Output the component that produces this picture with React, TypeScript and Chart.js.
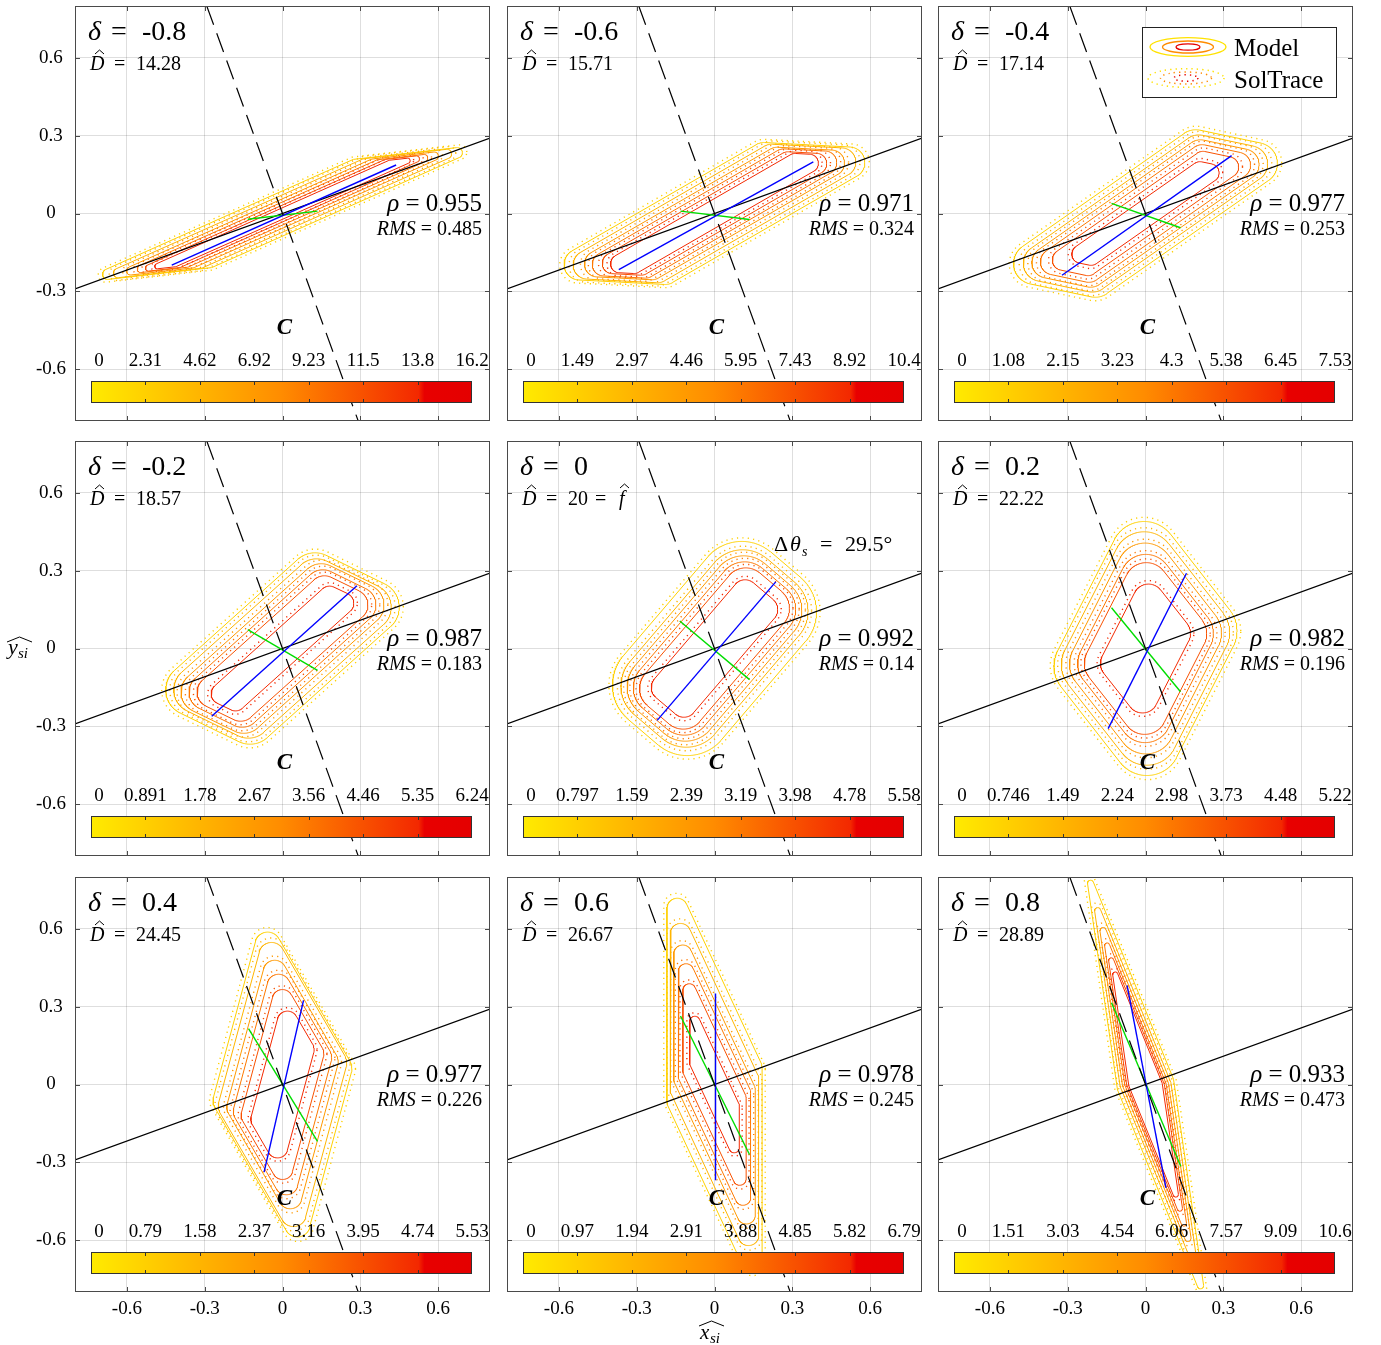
import React, { useEffect, useRef } from 'react';
import { Chart, registerables } from 'chart.js';
Chart.register(...registerables);

const SERIF = '"Liberation Serif", "Times New Roman", serif';

// ---------------- data ----------------
const deltaLabels = ['-0.8', '-0.6', '-0.4', '-0.2', '0', '0.2', '0.4', '0.6', '0.8'];
const dHatLabels = ['14.28', '15.71', '17.14', '18.57', '20', '22.22', '24.45', '26.67', '28.89'];
const rhoLabels = ['0.955', '0.971', '0.977', '0.987', '0.992', '0.982', '0.977', '0.978', '0.933'];
const rmsLabels = ['0.485', '0.324', '0.253', '0.183', '0.14', '0.196', '0.226', '0.245', '0.473'];
const colorbarLabels = [
  ['0', '2.31', '4.62', '6.92', '9.23', '11.5', '13.8', '16.2'],
  ['0', '1.49', '2.97', '4.46', '5.95', '7.43', '8.92', '10.4'],
  ['0', '1.08', '2.15', '3.23', '4.3', '5.38', '6.45', '7.53'],
  ['0', '0.891', '1.78', '2.67', '3.56', '4.46', '5.35', '6.24'],
  ['0', '0.797', '1.59', '2.39', '3.19', '3.98', '4.78', '5.58'],
  ['0', '0.746', '1.49', '2.24', '2.98', '3.73', '4.48', '5.22'],
  ['0', '0.79', '1.58', '2.37', '3.16', '3.95', '4.74', '5.53'],
  ['0', '0.97', '1.94', '2.91', '3.88', '4.85', '5.82', '6.79'],
  ['0', '1.51', '3.03', '4.54', '6.06', '7.57', '9.09', '10.6'],
];
const axisTicks = [-0.6, -0.3, 0, 0.3, 0.6];
const sunLine = [{ x: -0.8, y: -0.291 }, { x: 0.8, y: 0.291 }];
const normalLine = [{ x: -0.292, y: 0.8 }, { x: 0.292, y: -0.8 }];

// principal axes [x1, y1, x2, y2]
const blueAxis = [
  [-0.427, -0.199, 0.438, 0.187],
  [-0.369, -0.216, 0.381, 0.199],
  [-0.322, -0.238, 0.332, 0.223],
  [-0.273, -0.261, 0.287, 0.242],
  [-0.221, -0.277, 0.236, 0.257],
  [-0.144, -0.309, 0.158, 0.29],
  [-0.071, -0.338, 0.081, 0.324],
  [0.004, 0.351, 0.004, -0.369],
  [-0.071, 0.382, 0.079, -0.399],
];
const greenAxis = [
  [-0.134, -0.022, 0.135, 0.009],
  [-0.131, 0.009, 0.135, -0.023],
  [-0.131, 0.039, 0.135, -0.055],
  [-0.134, 0.073, 0.135, -0.084],
  [-0.134, 0.106, 0.135, -0.12],
  [-0.131, 0.157, 0.135, -0.167],
  [-0.131, 0.215, 0.135, -0.219],
  [-0.131, 0.264, 0.135, -0.27],
  [-0.131, 0.315, 0.136, -0.315],
];

// contour geometry: rounded parallelogram (edge directions in degrees, half lengths, rounding)
const edgeAngleA = [24, 30, 35, 42, 49.5, 63, 75, 90, 98.3];
const edgeAngleB = [6.5, -3, -12, -26, -40.5, -52, -60, -65, -67.9];
const levelA = [
  [0.52, 0.52, 0.51, 0.5, 0.5, 0.49],
  [0.41, 0.41, 0.4, 0.4, 0.39, 0.39],
  [0.38, 0.37, 0.36, 0.35, 0.33, 0.28],
  [0.32, 0.31, 0.31, 0.3, 0.29, 0.28],
  [0.25, 0.25, 0.25, 0.25, 0.25, 0.24],
  [0.24, 0.22, 0.2, 0.18, 0.17, 0.138],
  [0.31, 0.3, 0.27, 0.25, 0.23, 0.195],
  [0.37, 0.3, 0.24, 0.2, 0.155, 0.08],
  [0.4, 0.34, 0.3, 0.27, 0.24, 0.215],
];
const levelB = [
  [0.2, 0.16, 0.12, 0.09, 0.06, 0.035],
  [0.165, 0.135, 0.105, 0.08, 0.055, 0.028],
  [0.12, 0.1, 0.085, 0.07, 0.05, 0.02],
  [0.125, 0.11, 0.09, 0.075, 0.06, 0.03],
  [0.075, 0.07, 0.065, 0.06, 0.055, 0.05],
  [0.185, 0.17, 0.15, 0.13, 0.12, 0.083],
  [0.275, 0.24, 0.2, 0.16, 0.12, 0.063],
  [0.34, 0.31, 0.29, 0.26, 0.23, 0.18],
  [0.41, 0.36, 0.32, 0.29, 0.26, 0.228],
];
const levelR = [
  [0.02, 0.018, 0.016, 0.014, 0.012, 0.01],
  [0.06, 0.055, 0.05, 0.045, 0.04, 0.035],
  [0.08, 0.07, 0.06, 0.05, 0.04, 0.035],
  [0.1, 0.09, 0.08, 0.07, 0.06, 0.04],
  [0.174, 0.145, 0.125, 0.105, 0.085, 0.05],
  [0.13, 0.12, 0.11, 0.1, 0.085, 0.06],
  [0.05, 0.05, 0.045, 0.045, 0.04, 0.04],
  [0.04, 0.04, 0.035, 0.03, 0.025, 0.02],
  [0.012, 0.012, 0.012, 0.01, 0.01, 0.01],
];
const soltraceGrow = [0.008, 0.01, 0.011, 0.011, 0.011, 0.011, 0.01, 0.009, 0.008];
const levelFractions = [0.143, 0.286, 0.429, 0.571, 0.714, 0.857];

// ---------------- layout ----------------
const PANEL_LEFT = [75, 507, 938];
const PANEL_TOP = [6, 441, 877];
const PAD_L = 75, PAD_T = 6, PAD_R = 12, PAD_B = 54;
const PW = 415, PH = 415;
const CW = PAD_L + PW + PAD_R, CH = PAD_T + PH + PAD_B;

const CMAP: [number, number, number, number][] = [
  [0, 255, 235, 0], [0.5, 255, 140, 0], [0.86, 243, 40, 0], [0.875, 232, 0, 0], [1, 228, 0, 0],
];
function cmap(t: number): string {
  for (let i = 1; i < CMAP.length; i++) {
    if (t <= CMAP[i][0]) {
      const [t0, r0, g0, b0] = CMAP[i - 1];
      const [t1, r1, g1, b1] = CMAP[i];
      const u = (t - t0) / (t1 - t0);
      return `rgb(${Math.round(r0 + (r1 - r0) * u)},${Math.round(g0 + (g1 - g0) * u)},${Math.round(b0 + (b1 - b0) * u)})`;
    }
  }
  return 'rgb(228,0,0)';
}

function contour(angA: number, angB: number, a: number, b: number, r: number) {
  const ax = Math.cos((angA * Math.PI) / 180), ay = Math.sin((angA * Math.PI) / 180);
  const bx = Math.cos((angB * Math.PI) / 180), by = Math.sin((angB * Math.PI) / 180);
  const pts: { x: number; y: number }[] = [];
  const N = 400;
  for (let i = 0; i <= N; i++) {
    const t = (i / N) * 2 * Math.PI + 0.0013;
    const nx = Math.cos(t), ny = Math.sin(t);
    const sa = nx * ax + ny * ay >= 0 ? 1 : -1;
    const sb = nx * bx + ny * by >= 0 ? 1 : -1;
    pts.push({ x: sa * a * ax + sb * b * bx + r * nx, y: sa * a * ay + sb * b * by + r * ny });
  }
  return pts;
}

function hat(ctx: CanvasRenderingContext2D, x0: number, x1: number, y: number, h: number) {
  ctx.save();
  ctx.strokeStyle = '#000';
  ctx.lineWidth = 1;
  ctx.beginPath();
  ctx.moveTo(x0, y);
  ctx.lineTo((x0 + x1) / 2, y - h);
  ctx.lineTo(x1, y);
  ctx.stroke();
  ctx.restore();
}

function makePlugin(i: number) {
  return {
    id: 'annot' + i,
    afterDatasetsDraw(chart: any) {
      const { ctx, chartArea: ca } = chart;
      const xs = chart.scales.x, ys = chart.scales.y;
      const L0 = ca.left, T0 = ca.top;
      ctx.save();
      ctx.fillStyle = '#000';
      ctx.textAlign = 'left';
      ctx.textBaseline = 'alphabetic';

      // box + inner ticks
      ctx.strokeStyle = '#4a4a4a';
      ctx.lineWidth = 1;
      ctx.strokeRect(Math.round(ca.left) + 0.5, Math.round(ca.top) + 0.5, Math.round(ca.right - ca.left) - 1, Math.round(ca.bottom - ca.top) - 1);
      ctx.beginPath();
      for (const v of axisTicks) {
        const px = Math.round(xs.getPixelForValue(v)) + 0.5;
        ctx.moveTo(px, ca.bottom); ctx.lineTo(px, ca.bottom - 5);
        ctx.moveTo(px, ca.top); ctx.lineTo(px, ca.top + 5);
        const py = Math.round(ys.getPixelForValue(v)) + 0.5;
        ctx.moveTo(ca.left, py); ctx.lineTo(ca.left + 5, py);
        ctx.moveTo(ca.right, py); ctx.lineTo(ca.right - 5, py);
      }
      ctx.stroke();

      // delta label
      ctx.font = `italic 28px ${SERIF}`;
      ctx.fillText('δ', L0 + 13, T0 + 34);
      ctx.font = `28px ${SERIF}`;
      ctx.fillText('=', L0 + 36, T0 + 34);
      ctx.fillText(deltaLabels[i], L0 + 67, T0 + 34);

      // D hat label
      ctx.font = `italic 20px ${SERIF}`;
      ctx.fillText('D', L0 + 15, T0 + 64);
      hat(ctx, L0 + 20, L0 + 29, T0 + 48, 4);
      ctx.font = `20px ${SERIF}`;
      ctx.fillText('=', L0 + 39, T0 + 64);
      ctx.fillText(dHatLabels[i], L0 + 61, T0 + 64);
      if (dHatLabels[i] === '20') {
        ctx.fillText('=', L0 + 88, T0 + 64);
        ctx.font = `italic 20px ${SERIF}`;
        ctx.fillText('f', L0 + 112, T0 + 64);
        hat(ctx, L0 + 113, L0 + 122, T0 + 47, 4);
      }

      // rho & RMS
      ctx.textAlign = 'right';
      ctx.font = `25px ${SERIF}`;
      ctx.fillText(' = ' + rhoLabels[i], L0 + 407, T0 + 205);
      let w = ctx.measureText(' = ' + rhoLabels[i]).width;
      ctx.font = `italic 25px ${SERIF}`;
      ctx.fillText('ρ', L0 + 407 - w, T0 + 205);
      ctx.font = `20px ${SERIF}`;
      ctx.fillText(' = ' + rmsLabels[i], L0 + 407, T0 + 229);
      w = ctx.measureText(' = ' + rmsLabels[i]).width;
      ctx.font = `italic 20px ${SERIF}`;
      ctx.fillText('RMS', L0 + 407 - w, T0 + 229);
      ctx.textAlign = 'left';

      // colorbar
      const L = Math.round(xs.getPixelForValue(-0.74));
      const R = Math.round(xs.getPixelForValue(0.731));
      const T = Math.round(ys.getPixelForValue(-0.645));
      const B = Math.round(ys.getPixelForValue(-0.73));
      const g = ctx.createLinearGradient(L, 0, R, 0);
      for (const s of CMAP) g.addColorStop(s[0], `rgb(${s[1]},${s[2]},${s[3]})`);
      ctx.fillStyle = g;
      ctx.fillRect(L, T, R - L, B - T);
      ctx.strokeStyle = '#333';
      ctx.strokeRect(L + 0.5, T + 0.5, R - L - 1, B - T - 1);
      ctx.beginPath();
      for (let k = 1; k < 7; k++) {
        const xk = Math.round(L + ((R - L) * k) / 7) + 0.5;
        ctx.moveTo(xk, T); ctx.lineTo(xk, T + 4);
        ctx.moveTo(xk, B); ctx.lineTo(xk, B - 4);
      }
      ctx.stroke();
      ctx.fillStyle = '#000';
      ctx.textAlign = 'center';
      ctx.font = `19px ${SERIF}`;
      colorbarLabels[i].forEach((lab, k) => {
        const xk = L + ((R - L) * k) / 7 + (k === 0 ? 8 : 0);
        ctx.fillText(lab, xk, T - 15);
      });
      ctx.font = `italic bold 23px ${SERIF}`;
      ctx.fillText('C', xs.getPixelForValue(0) + 2, T - 47);
      ctx.textAlign = 'left';

      // delta theta annotation
      if (i === 4) {
        const by = T0 + 110;
        ctx.font = `22px ${SERIF}`;
        ctx.fillText('Δ', L0 + 267, by);
        ctx.font = `italic 22px ${SERIF}`;
        ctx.fillText('θ', L0 + 283, by);
        ctx.font = `italic 14px ${SERIF}`;
        ctx.fillText('s', L0 + 295, by + 5);
        ctx.font = `22px ${SERIF}`;
        ctx.fillText('=', L0 + 313, by);
        ctx.fillText('29.5°', L0 + 338, by);
      }

      // legend
      if (i === 2) {
        const lx = L0 + 204, ly = T0 + 21, lw = 194, lh = 70;
        ctx.fillStyle = '#fff';
        ctx.fillRect(lx, ly, lw, lh);
        ctx.strokeStyle = '#222';
        ctx.lineWidth = 1;
        ctx.strokeRect(lx + 0.5, ly + 0.5, lw, lh);
        const rings: [number, number, string][] = [[38, 9.3, cmap(0.05)], [25.5, 6, cmap(0.5)], [12, 3.2, cmap(0.93)]];
        for (const [rx, ry, c] of rings) {
          ctx.strokeStyle = c;
          ctx.lineWidth = 1.3;
          ctx.setLineDash([]);
          ctx.beginPath();
          ctx.ellipse(L0 + 250, T0 + 41, rx, ry, 0, 0, Math.PI * 2);
          ctx.stroke();
          ctx.setLineDash([1.3, 4]);
          ctx.lineWidth = 1.5;
          ctx.beginPath();
          ctx.ellipse(L0 + 248, T0 + 72, rx, ry, 0, 0, Math.PI * 2);
          ctx.stroke();
        }
        ctx.setLineDash([]);
        ctx.fillStyle = '#000';
        ctx.font = `25px ${SERIF}`;
        ctx.fillText('Model', L0 + 296, T0 + 50);
        ctx.fillText('SolTrace', L0 + 296, T0 + 82);
      }

      // axis titles
      if (i === 3) {
        const x0 = L0 - 67, by = T0 + 213;
        ctx.font = `italic 22px ${SERIF}`;
        ctx.fillText('y', x0, by);
        ctx.font = `italic 15px ${SERIF}`;
        ctx.fillText('si', x0 + 10, by + 4);
        hat(ctx, x0 - 1, x0 + 24, by - 12, 5);
      }
      if (i === 7) {
        const x0 = L0 + 193, by = ca.bottom + 47;
        ctx.font = `italic 21px ${SERIF}`;
        ctx.fillText('x', x0, by);
        ctx.font = `italic 15px ${SERIF}`;
        ctx.fillText('si', x0 + 10, by + 4);
        hat(ctx, x0 - 1, x0 + 24, by - 13, 5);
      }
      ctx.restore();
    },
  };
}

function lineDs(data: { x: number; y: number }[], color: string, width: number, dash: number[] = []) {
  return {
    data,
    showLine: true,
    borderColor: color,
    backgroundColor: color,
    borderWidth: width,
    borderDash: dash,
    pointRadius: 0,
    pointHoverRadius: 0,
    fill: false,
    tension: 0,
  };
}

function buildConfig(i: number): any {
  const col = i % 3, row = Math.floor(i / 3);
  const datasets: any[] = [];
  const ba = blueAxis[i], ga = greenAxis[i];
  datasets.push(lineDs(normalLine, '#000', 1.2, [20, 9]));
  datasets.push(lineDs([{ x: ba[0], y: ba[1] }, { x: ba[2], y: ba[3] }], '#0000ff', 1.4));
  datasets.push(lineDs([{ x: ga[0], y: ga[1] }, { x: ga[2], y: ga[3] }], '#00dd00', 1.4));
  datasets.push(lineDs(sunLine, '#000', 1.2));
  for (let k = 0; k < 6; k++) {
    const c = cmap(levelFractions[k]);
    datasets.push(lineDs(contour(edgeAngleA[i], edgeAngleB[i], levelA[i][k], levelB[i][k], levelR[i][k]), c, 1.0));
    datasets.push(
      lineDs(
        contour(edgeAngleA[i], edgeAngleB[i], levelA[i][k] * 1.01, levelB[i][k] * 1.02, levelR[i][k] + soltraceGrow[i]),
        c,
        1.4,
        [1.2, 4.2]
      )
    );
  }
  const gridColor = 'rgba(0,0,0,0.13)';
  const tickFont = { family: SERIF, size: 19 };
  const fmt = (v: number) => (Math.abs(v) < 1e-9 ? '0' : String(Math.round(v * 10) / 10));
  const zeroPad = (s: any) => { s.paddingTop = 0; s.paddingBottom = 0; s.paddingLeft = 0; s.paddingRight = 0; };
  return {
    type: 'scatter',
    data: { datasets },
    options: {
      animation: false,
      responsive: false,
      maintainAspectRatio: false,
      events: [],
      layout: { padding: { left: 0, right: PAD_R, top: PAD_T, bottom: 0 } },
      plugins: { legend: { display: false }, tooltip: { enabled: false } },
      scales: {
        x: {
          type: 'linear',
          min: -0.8,
          max: 0.8,
          afterBuildTicks: (s: any) => { s.ticks = axisTicks.map((v) => ({ value: v })); },
          afterFit: (s: any) => { s.height = PAD_B; zeroPad(s); },
          grid: { color: gridColor, lineWidth: 1, drawTicks: false },
          border: { display: false },
          ticks: { display: row === 2, color: '#000', font: tickFont, padding: 6, maxRotation: 0, autoSkip: false, callback: (v: any) => fmt(Number(v)) },
        },
        y: {
          type: 'linear',
          min: -0.8,
          max: 0.8,
          afterBuildTicks: (s: any) => { s.ticks = axisTicks.map((v) => ({ value: v })); },
          afterFit: (s: any) => { s.width = PAD_L; zeroPad(s); },
          grid: { color: gridColor, lineWidth: 1, drawTicks: false },
          border: { display: false },
          ticks: { display: col === 0, color: '#000', font: tickFont, padding: 9, crossAlign: 'center', autoSkip: false, callback: (v: any) => fmt(Number(v)) },
        },
      },
    },
    plugins: [makePlugin(i)],
  };
}

function Panel({ idx }: { idx: number }) {
  const ref = useRef<HTMLCanvasElement>(null);
  useEffect(() => {
    if (!ref.current) return;
    const chart = new Chart(ref.current, buildConfig(idx));
    return () => chart.destroy();
  }, [idx]);
  const col = idx % 3, row = Math.floor(idx / 3);
  return (
    <canvas
      ref={ref}
      width={CW}
      height={CH}
      style={{ position: 'absolute', left: PANEL_LEFT[col] - PAD_L, top: PANEL_TOP[row] - PAD_T, width: CW, height: CH }}
    />
  );
}

export default function App() {
  return (
    <div style={{ position: 'absolute', left: 0, top: 0, width: 1381, height: 1345, background: '#fff', overflow: 'hidden' }}>
      {[0, 1, 2, 3, 4, 5, 6, 7, 8].map((i) => (
        <Panel key={i} idx={i} />
      ))}
    </div>
  );
}
